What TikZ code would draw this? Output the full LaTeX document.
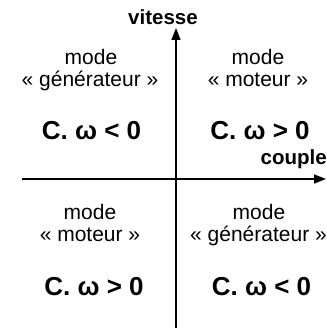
\documentclass[tikz,border=0pt]{standalone}
\usepackage{fontspec}
\setmainfont{Liberation Sans}
\usetikzlibrary{arrows.meta}
\begin{document}
\begin{tikzpicture}[x=1pt, y=1pt, every node/.style={font=\fontsize{21}{23}\selectfont, inner sep=0pt, anchor=base},
    signe/.style={font=\fontsize{26}{28}\selectfont\bfseries},
    axe/.style={font=\fontsize{20.5}{22}\selectfont\bfseries}]
    \useasboundingbox (0,0) rectangle (326,328);
    \coordinate (bas) at (176,0);
    \coordinate (haut) at (176,300);
    \coordinate (gauche) at (22,149);
    \coordinate (droite) at (326,149);
    \draw[line width=1.6pt, -{Triangle[length=12pt, width=9pt]}] (bas) -- (haut);
    \draw[line width=1.6pt, -{Triangle[length=12pt, width=9pt]}] (gauche) -- (droite);
    \node[axe] (vitesse) at (163,303) {vitesse};
    \node[axe, anchor=base east] (couple) at (327,163) {couple};
    % quadrants
    \node (modeA) at (91,263) {mode};
    \node (typeA) at (90,241) {« générateur »};
    \node[signe] (signeA) at (91.5,188) {C. ω < 0};
    \node (modeB) at (258,263) {mode};
    \node (typeB) at (258,241) {« moteur »};
    \node[signe] (signeB) at (260,188) {C. ω > 0};
    \node (modeC) at (90,108) {mode};
    \node (typeC) at (90,86) {« moteur »};
    \node[signe] (signeC) at (94,32) {C. ω > 0};
    \node (modeD) at (259,108) {mode};
    \node (typeD) at (258.5,86) {« générateur »};
    \node[signe] (signeD) at (261.5,32) {C. ω < 0};
\end{tikzpicture}
\end{document}
